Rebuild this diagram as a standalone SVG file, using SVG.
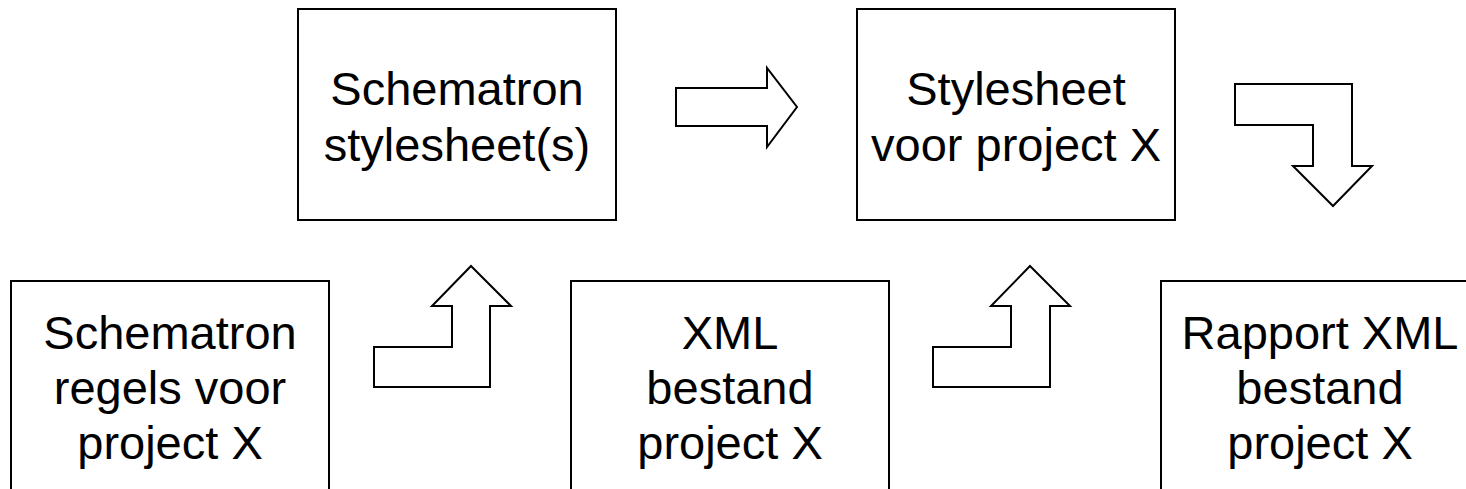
<svg xmlns="http://www.w3.org/2000/svg" width="1466" height="489" viewBox="0 0 1466 489">
<style>
.box{fill:#fff;stroke:#000;stroke-width:2}
.arr{fill:#fff;stroke:#000;stroke-width:2;stroke-linejoin:miter}
.t{font-family:"Liberation Sans",Arial,sans-serif;font-size:47px;fill:#000;text-anchor:middle}
</style>
<rect width="1466" height="489" fill="#fff"/>
<g id="node-schematron-stylesheets">
<rect class="box" x="298" y="9" width="318" height="211"/>
<text class="t" x="457" y="105">Schematron</text>
<text class="t" x="457" y="161">stylesheet(s)</text>
</g>
<g id="node-stylesheet-project">
<rect class="box" x="857" y="9" width="318" height="211"/>
<text class="t" x="1016" y="105">Stylesheet</text>
<text class="t" x="1016" y="161">voor project X</text>
</g>
<g id="node-schematron-regels">
<rect class="box" x="11" y="281" width="318" height="230"/>
<text class="t" x="170" y="349">Schematron</text>
<text class="t" x="170" y="404">regels voor</text>
<text class="t" x="170" y="459">project X</text>
</g>
<g id="node-xml-bestand">
<rect class="box" x="571" y="281" width="318" height="230"/>
<text class="t" x="730" y="349">XML</text>
<text class="t" x="730" y="404">bestand</text>
<text class="t" x="730" y="459">project X</text>
</g>
<g id="node-rapport">
<rect class="box" x="1161" y="281" width="318" height="230"/>
<text class="t" x="1320" y="349">Rapport XML</text>
<text class="t" x="1320" y="404">bestand</text>
<text class="t" x="1320" y="459">project X</text>
</g>
<g id="connectors">
<polygon class="arr" points="676,88 767,88 767,68 797,107 767,147 767,126 676,126"/>
<polygon class="arr" points="1235,84 1352,84 1352,166 1372,166 1333,206 1293,166 1313,166 1313,125 1235,125"/>
<polygon class="arr" points="471,266 511,306 490,306 490,387 374,387 374,347 452,347 452,306 432,306"/>
<polygon class="arr" points="1030,266 1070,306 1050,306 1050,387 933,387 933,347 1011,347 1011,306 991,306"/>
</g>
</svg>
